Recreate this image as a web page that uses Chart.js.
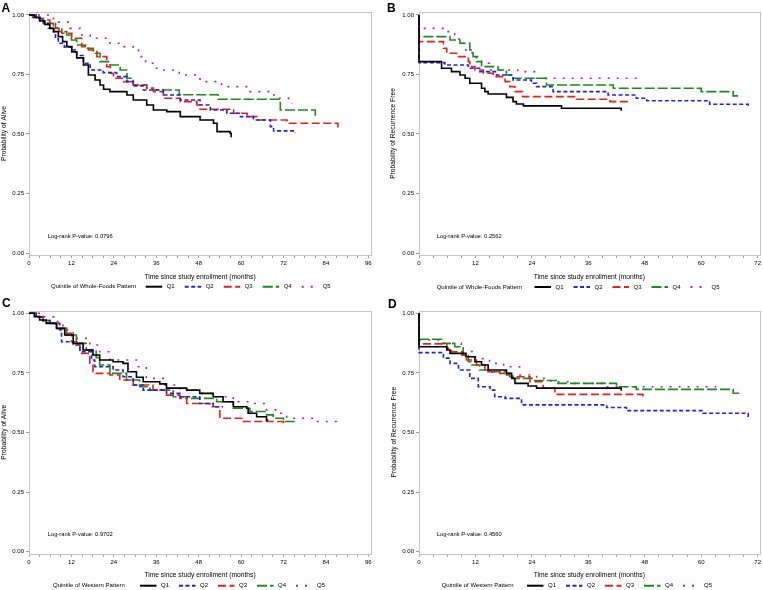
<!DOCTYPE html>
<html>
<head>
<meta charset="utf-8">
<script src="https://cdn.jsdelivr.net/npm/chart.js@4.4.0/dist/chart.umd.min.js"></script>
<style>
  body { margin: 0; background: #fff; width: 763px; height: 590px; position: relative; overflow: hidden; }
  canvas { position: absolute; }
</style>
</head>
<body>
<canvas id="panelA" width="381" height="293" style="left:0;top:0"></canvas>
<canvas id="panelB" width="382" height="293" style="left:381px;top:0"></canvas>
<canvas id="panelC" width="381" height="297" style="left:0;top:293px"></canvas>
<canvas id="panelD" width="382" height="297" style="left:381px;top:293px"></canvas>
<script>
// quintile labels and tick values
const quintiles = ["Q1", "Q2", "Q3", "Q4", "Q5"];
const yTicks = [0, 0.25, 0.5, 0.75, 1];
const xTicks96 = [0,3,6,9,12,15,18,21,24,27,30,33,36,39,42,45,48,51,54,57,60,63,66,69,72,75,78,81,84,87,90,93,96];
const xTicks72 = [0,3,6,9,12,15,18,21,24,27,30,33,36,39,42,45,48,51,54,57,60,63,66,69,72];

// [months, probability] – each point is where the curve steps down to that value
// A: overall survival by whole-foods quintile
const aliveWholeQ1 = [[0,1],[1.5,0.99],[3,0.975],[4.5,0.96],[5.9,0.944],[7,0.93],[8.3,0.909],[9.5,0.888],[10.7,0.867],[12.1,0.845],[13.5,0.82],[15.4,0.79],[16.8,0.748],[18.7,0.727],[20.1,0.706],[21.1,0.688],[22.9,0.678],[27.7,0.664],[29.5,0.643],[33.3,0.622],[35.2,0.601],[39,0.594],[42.8,0.573],[48.4,0.559],[52.2,0.545],[53.2,0.51],[56.9,0.503],[57.2,0.486]];
const aliveWholeQ2 = [[0,1],[2,0.985],[4.1,0.965],[5.5,0.945],[6.9,0.93],[7.5,0.9],[8.3,0.881],[10,0.865],[12.1,0.853],[13.5,0.83],[15.4,0.797],[17.3,0.769],[21,0.758],[24.8,0.741],[27.7,0.72],[29.5,0.702],[32.4,0.685],[38,0.664],[42.8,0.643],[48.4,0.622],[51.3,0.601],[56,0.587],[59.8,0.573],[63.5,0.559],[68.3,0.531],[69.2,0.513],[75.3,0.505]];
const aliveWholeQ3 = [[0,1],[1,0.99],[3.1,0.979],[5.9,0.965],[7.5,0.945],[9.3,0.923],[12.1,0.902],[14.9,0.867],[16.8,0.853],[19.2,0.825],[22,0.783],[23,0.755],[23.9,0.734],[26.7,0.72],[29.5,0.706],[33.3,0.692],[35.2,0.678],[38,0.65],[42.8,0.636],[47.5,0.622],[48.4,0.604],[57.9,0.587],[61.7,0.573],[64.5,0.559],[73,0.545],[87.4,0.527]];
const aliveWholeQ4 = [[0,1],[2,0.985],[4.1,0.965],[6.9,0.944],[8.5,0.93],[10.7,0.916],[12,0.895],[13.5,0.874],[16,0.86],[18.2,0.839],[20.1,0.804],[22.9,0.79],[25.8,0.769],[27.7,0.734],[29.5,0.706],[33.3,0.692],[35.2,0.685],[42.5,0.665],[53.5,0.646],[71.1,0.601],[81,0.573]];
const aliveWholeQ5 = [[0,1],[6,0.985],[8.3,0.97],[11.6,0.944],[14.4,0.916],[17.3,0.902],[22.9,0.881],[26,0.867],[29.5,0.853],[31,0.825],[33,0.797],[35.5,0.776],[37,0.769],[42.5,0.748],[48.4,0.72],[54.5,0.699],[62,0.678],[67.8,0.664],[70.5,0.65],[73.5,0.629],[74.5,0.629]];

// B: recurrence-free by whole-foods quintile
const recWholeQ1 = [[0,1],[0,0.804],[4.8,0.776],[6.9,0.762],[8.7,0.748],[9.8,0.734],[10.8,0.713],[13.3,0.692],[14,0.678],[14.7,0.668],[18.6,0.654],[20,0.636],[20.7,0.626],[22.2,0.618],[30.3,0.608],[43,0.598]];
const recWholeQ2 = [[0,1],[0,0.8],[5.5,0.79],[10.5,0.776],[12.9,0.762],[16.5,0.748],[20,0.727],[23.9,0.713],[25,0.699],[28.5,0.678],[40.2,0.664],[46.2,0.65],[48.4,0.64],[61.8,0.625],[70,0.612]];
const recWholeQ3 = [[0,1],[0,0.888],[5.2,0.86],[5.9,0.839],[8,0.825],[10.5,0.804],[10.8,0.783],[11.9,0.769],[13.7,0.755],[15.8,0.741],[18.3,0.72],[19.3,0.699],[20.4,0.678],[22,0.657],[33.5,0.646],[40.6,0.636],[44.5,0.636]];
const recWholeQ4 = [[0,1],[0,0.909],[6.6,0.895],[8.7,0.881],[10.8,0.853],[11.5,0.825],[12.2,0.804],[13.3,0.783],[16.8,0.769],[18.6,0.748],[20,0.734],[27.1,0.706],[41.3,0.692],[60,0.678],[66.8,0.66],[68.5,0.66]];
const recWholeQ5 = [[0,1],[0,0.944],[5.5,0.93],[7.6,0.909],[8.5,0.881],[9.5,0.853],[11.3,0.825],[13.3,0.797],[15,0.769],[21,0.762],[25,0.734],[47.6,0.734]];

// C: overall survival by western quintile
const aliveWestQ1 = [[0,1],[1.5,0.986],[3,0.972],[4.9,0.958],[7.8,0.937],[10.1,0.909],[12.5,0.874],[15.3,0.846],[18.1,0.825],[20,0.804],[23.8,0.797],[26.6,0.79],[28,0.755],[30.4,0.732],[32.3,0.713],[37,0.704],[38.9,0.686],[44.6,0.678],[48.3,0.664],[52.1,0.65],[54.9,0.629],[57.8,0.608],[61.6,0.602],[62,0.581],[64.4,0.566],[67.2,0.552],[67.7,0.552]];
const aliveWestQ2 = [[0,1],[2,0.985],[4,0.97],[5.9,0.958],[8.7,0.93],[9.2,0.881],[12.5,0.867],[14.4,0.839],[17.7,0.804],[18.6,0.776],[23.8,0.762],[26.6,0.734],[29.5,0.699],[32.3,0.678],[38.9,0.664],[42.7,0.65],[48.3,0.622],[52.1,0.608],[54.9,0.608]];
const aliveWestQ3 = [[0,1],[2.1,0.986],[4,0.97],[5.9,0.958],[7.8,0.937],[10.6,0.916],[12,0.881],[14.4,0.832],[17.2,0.783],[18.1,0.748],[22.9,0.741],[25.7,0.72],[29.5,0.699],[35.1,0.678],[38.9,0.657],[42.7,0.643],[44.6,0.622],[51.2,0.608],[54,0.56],[60.6,0.546],[72,0.532]];
const aliveWestQ4 = [[0,1],[2,0.985],[4,0.96],[7.8,0.937],[10.6,0.909],[13.4,0.874],[16.2,0.846],[19,0.814],[20,0.783],[22.9,0.748],[27.6,0.72],[31.3,0.692],[34.2,0.678],[40.8,0.65],[44.6,0.643],[53.1,0.629],[57.8,0.602],[62.5,0.588],[67.2,0.574],[69.1,0.56],[72,0.546],[75.2,0.539]];
const aliveWestQ5 = [[0,1],[4,0.985],[7.8,0.965],[9.6,0.93],[12.5,0.895],[17.2,0.867],[20,0.839],[22.9,0.804],[30.4,0.776],[33.2,0.727],[38,0.699],[42.7,0.678],[48.3,0.664],[53,0.65],[57.8,0.629],[63.4,0.622],[67.2,0.595],[71,0.581],[72.9,0.56],[81.4,0.546],[87,0.532],[87.5,0.532]];

// D: recurrence-free by western quintile
const recWestQ1 = [[0,1],[0,0.86],[5.9,0.846],[6.6,0.832],[10,0.818],[11.9,0.797],[13.3,0.783],[14.7,0.762],[18.6,0.748],[19.7,0.727],[20.4,0.706],[23.2,0.695],[25,0.686],[43,0.675]];
const recWestQ2 = [[0,1],[0,0.835],[5.2,0.812],[6.6,0.79],[8.4,0.762],[10.8,0.727],[12.6,0.692],[15.1,0.678],[16.1,0.65],[18.3,0.643],[21.8,0.616],[39.9,0.605],[44.1,0.592],[60.4,0.581],[70,0.56]];
const recWestQ3 = [[0,1],[0,0.872],[5.9,0.853],[6.9,0.839],[9.1,0.825],[10.1,0.804],[12.2,0.783],[14,0.755],[17.2,0.748],[19.3,0.734],[23.6,0.713],[26.4,0.686],[28.9,0.66],[47.6,0.648]];
const recWestQ4 = [[0,1],[0,0.891],[4.8,0.874],[7.6,0.86],[9.4,0.825],[10.5,0.797],[11.2,0.783],[12.9,0.762],[15.1,0.755],[18.6,0.741],[20,0.727],[24.3,0.718],[29.2,0.706],[42,0.692],[46.2,0.681],[66.8,0.665],[68.5,0.665]];
const recWestQ5 = [[0,1],[0,0.888],[5,0.874],[9,0.84],[12,0.81],[15,0.79],[18,0.776],[21.4,0.741],[25,0.727],[28,0.713],[33,0.706],[39,0.692],[63.2,0.692]];

const colors = ["#000000", "#2323d2", "#e3211d", "#1d8a1d", "#9c2c9c"];
const dashes = [[], [4, 2.5], [8, 3.5], [10, 3], [2, 7]];
const fontFamily = '"Liberation Sans", Arial, sans-serif';

// frame, panel letter, p-value note and the inline legend
const kmExtras = {
    id: "kmExtras",
    beforeDatasetsDraw(chart) {
        const { ctx, chartArea: a } = chart;
        ctx.save();
        ctx.strokeStyle = "#c4c4c4";
        ctx.lineWidth = 1;
        ctx.strokeRect(Math.round(a.left) + 0.5, Math.round(a.top) + 0.5, Math.round(a.right - a.left), Math.round(a.bottom - a.top));
        ctx.restore();
    },
    afterDraw(chart, args, o) {
        const ctx = chart.ctx;
        ctx.save();
        ctx.fillStyle = "#000";
        ctx.font = "bold 12px " + fontFamily;
        ctx.textBaseline = "alphabetic";
        ctx.fillText(o.letter, o.letterX, o.letterY);

        ctx.font = "5.8px " + fontFamily;
        ctx.textBaseline = "middle";
        ctx.fillText(o.pText, o.pX, o.pY);

        ctx.font = "6px " + fontFamily;
        ctx.fillText(o.legendTitle, o.legendX, o.legendY);
        quintiles.forEach((q, i) => {
            const x0 = o.itemX + i * 39;
            ctx.strokeStyle = colors[i];
            ctx.lineWidth = 2;
            ctx.setLineDash(dashes[i]);
            ctx.beginPath();
            ctx.moveTo(x0, o.legendY);
            ctx.lineTo(x0 + 16.5, o.legendY);
            ctx.stroke();
            ctx.setLineDash([]);
            ctx.fillStyle = "#000";
            ctx.fillText(q, x0 + 21, o.legendY);
        });
        ctx.restore();
    }
};

const makePanel = (id, p) => {
    const ctx = document.getElementById(id).getContext("2d");
    const datasets = p.series.map((s, i) => ({
        label: quintiles[i],
        data: s.map(pt => ({ x: pt[0], y: pt[1] })),
        borderColor: colors[i],
        borderWidth: 1.6,
        borderDash: dashes[i],
        stepped: true,
        pointRadius: 0,
        fill: false,
        clip: false
    }));

    const config = {
        type: "line",
        data: { datasets: datasets },
        options: {
            responsive: false,
            animation: false,
            events: [],
            layout: { padding: { left: 0, top: p.top, right: p.right, bottom: 0 } },
            plugins: {
                legend: { display: false },
                tooltip: { enabled: false },
                kmExtras: p.extras
            },
            scales: {
                x: {
                    type: "linear",
                    min: 0,
                    max: p.xMax,
                    afterBuildTicks: s => { s.ticks = p.xTicks.map(v => ({ value: v })); },
                    afterFit: s => { s.height = p.xHeight; },
                    border: { display: false },
                    grid: { drawOnChartArea: false, tickLength: 3, color: "#9a9a9a" },
                    ticks: {
                        autoSkip: false,
                        maxRotation: 0,
                        padding: 2,
                        color: "#000",
                        font: { family: fontFamily, size: 6 },
                        callback: v => (v % 12 === 0 ? v : "")
                    },
                    title: {
                        display: true,
                        text: "Time since study enrollment (months)",
                        color: "#000",
                        font: { family: fontFamily, size: 6.7 },
                        padding: { top: 0, bottom: p.xTitlePad }
                    }
                },
                y: {
                    type: "linear",
                    min: p.yMin,
                    max: p.yMax,
                    afterBuildTicks: s => { s.ticks = yTicks.map(v => ({ value: v })); },
                    afterFit: s => { s.width = p.yWidth; },
                    border: { display: false },
                    grid: { drawOnChartArea: false, tickLength: 3, color: "#9a9a9a" },
                    ticks: {
                        padding: 2,
                        color: "#000",
                        font: { family: fontFamily, size: 6 },
                        callback: v => v.toFixed(2)
                    },
                    title: {
                        display: true,
                        text: p.yTitle,
                        color: "#000",
                        font: { family: fontFamily, size: 6.7 },
                        padding: { top: p.yTitlePad, bottom: 0 }
                    }
                }
            }
        },
        plugins: [kmExtras]
    };

    return new Chart(ctx, config);
};

makePanel("panelA", {
    series: [aliveWholeQ1, aliveWholeQ2, aliveWholeQ3, aliveWholeQ4, aliveWholeQ5],
    top: 12, right: 10, xHeight: 38, yWidth: 29,
    xMax: 96.76, xTicks: xTicks96, yMin: -0.0084, yMax: 1.0126,
    xTitlePad: 12, yTitlePad: 0.5, yTitle: "Probability of Alive",
    extras: { letter: "A", letterX: 1.5, letterY: 11.7, pText: "Log-rank P-value: 0.0796", pX: 47.7, pY: 236,
              legendTitle: "Quintile of Whole-Foods Pattern", legendX: 51, legendY: 286.7, itemX: 145.7 }
});

makePanel("panelB", {
    series: [recWholeQ1, recWholeQ2, recWholeQ3, recWholeQ4, recWholeQ5],
    top: 12, right: 3, xHeight: 38, yWidth: 38,
    xMax: 72.42, xTicks: xTicks72, yMin: -0.0084, yMax: 1.0126,
    xTitlePad: 12, yTitlePad: 8.5, yTitle: "Probability of Recurrence Free",
    extras: { letter: "B", letterX: 6, letterY: 11.7, pText: "Log-rank P-value: 0.2562", pX: 55.7, pY: 236,
              legendTitle: "Quintile of Whole-Foods Pattern", legendX: 55.7, legendY: 287, itemX: 153.5 }
});

makePanel("panelC", {
    series: [aliveWestQ1, aliveWestQ2, aliveWestQ3, aliveWestQ4, aliveWestQ5],
    top: 17.7, right: 10, xHeight: 36.3, yWidth: 29,
    xMax: 96.76, xTicks: xTicks96, yMin: -0.0084, yMax: 1.011,
    xTitlePad: 10.7, yTitlePad: 0.2, yTitle: "Probability of Alive",
    extras: { letter: "C", letterX: 2, letterY: 14, pText: "Log-rank P-value: 0.9702", pX: 47.7, pY: 241.3,
              legendTitle: "Quintile of Western Pattern", legendX: 53, legendY: 292.7, itemX: 140 }
});

makePanel("panelD", {
    series: [recWestQ1, recWestQ2, recWestQ3, recWestQ4, recWestQ5],
    top: 17.7, right: 3, xHeight: 36.3, yWidth: 38,
    xMax: 72.42, xTicks: xTicks72, yMin: -0.0084, yMax: 1.011,
    xTitlePad: 10.7, yTitlePad: 8.8, yTitle: "Probability of Recurrence Free",
    extras: { letter: "D", letterX: 7, letterY: 15, pText: "Log-rank P-value: 0.4560", pX: 55.7, pY: 241.3,
              legendTitle: "Quintile of Western Pattern", legendX: 60.7, legendY: 292.7, itemX: 146 }
});
</script>
</body>
</html>
